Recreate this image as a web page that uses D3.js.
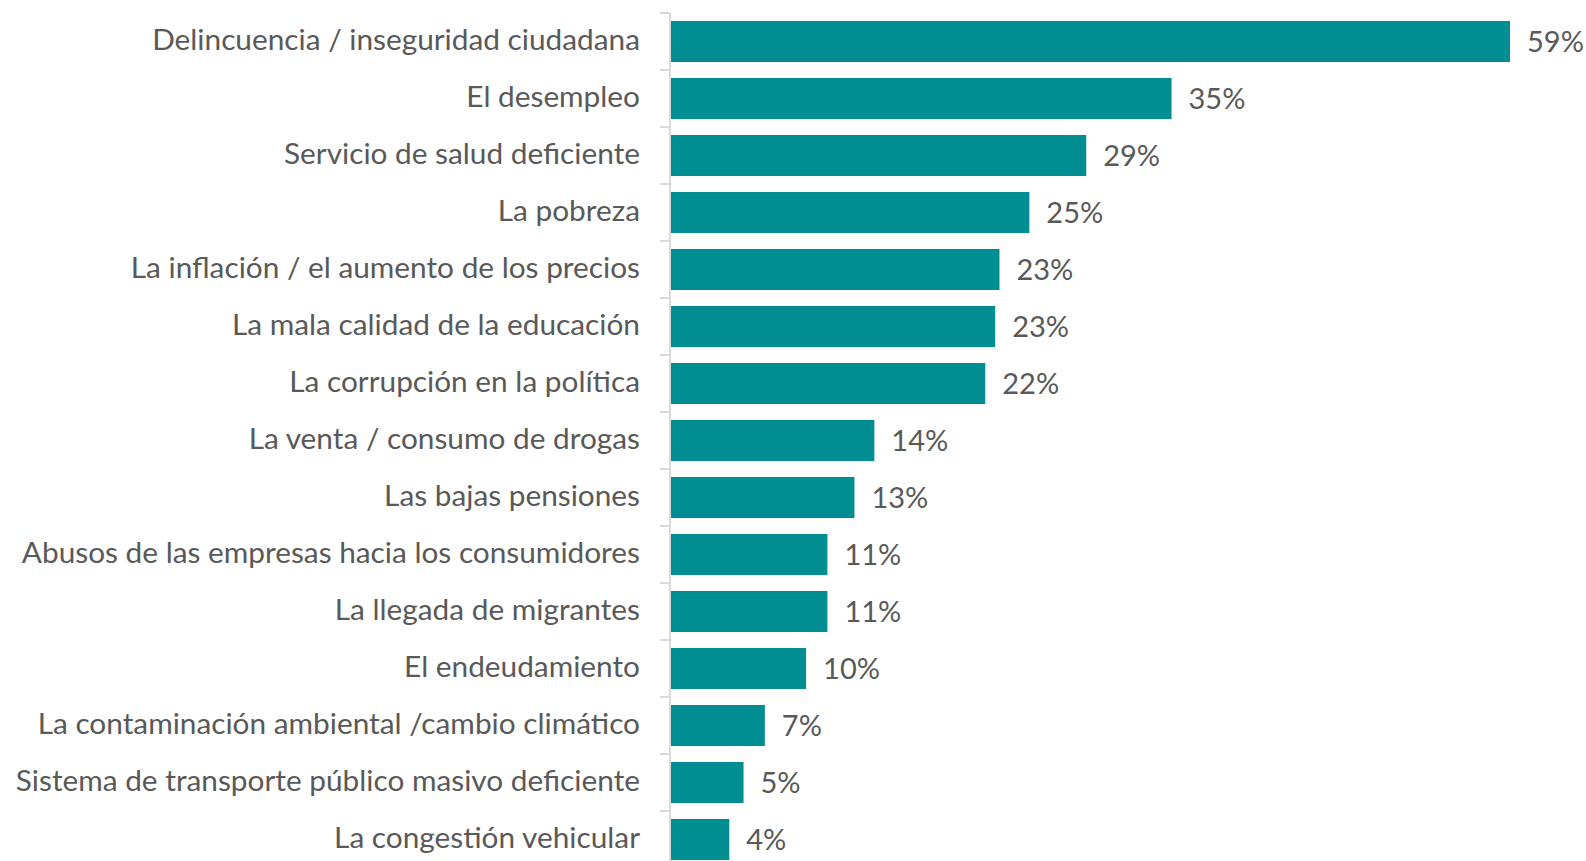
<!DOCTYPE html>
<html>
<head>
<meta charset="utf-8">
<script src="https://cdn.jsdelivr.net/npm/d3@7"></script>
<style>
  body { margin: 0; background: #fff; }
  svg { display: block; }
  text { font-family: Lato, 'Open Sans', sans-serif; fill: #595959; }
</style>
</head>
<body>
<div id="chart"></div>
<script>
const categories = [
  'Delincuencia / inseguridad ciudadana',
  'El desempleo',
  'Servicio de salud deficiente',
  'La pobreza',
  'La inflación / el aumento de los precios',
  'La mala calidad de la educación',
  'La corrupción en la política',
  'La venta / consumo de drogas',
  'Las bajas pensiones',
  'Abusos de las empresas hacia los consumidores',
  'La llegada de migrantes',
  'El endeudamiento',
  'La contaminación ambiental /cambio climático',
  'Sistema de transporte público masivo deficiente',
  'La congestión vehicular'
]
const values = [59.0, 35.2, 29.2, 25.2, 23.1, 22.8, 22.1, 14.3, 12.9, 11.0, 11.0, 9.5, 6.6, 5.1, 4.1]
const valueLabels = ['59%', '35%', '29%', '25%', '23%', '23%', '22%', '14%', '13%', '11%', '11%', '10%', '7%', '5%', '4%']

const data = categories.map((c, i) => ({ cat: c, value: values[i], label: valueLabels[i] }))

const WIDTH = 1586
const HEIGHT = 861
const AXIS_X = 670
const TOP = 13
const STEP = 57

const svg = d3.select('#chart')
  .append('svg')
  .attr('width', WIDTH)
  .attr('height', HEIGHT)

svg.append('rect')
  .attr('width', WIDTH)
  .attr('height', HEIGHT)
  .attr('fill', '#fff')

const y = d3.scaleBand()
  .domain(categories)
  .range([TOP, TOP + STEP * categories.length])
  .paddingInner(0.28)
  .paddingOuter(0.14)

const x = d3.scaleLinear()
  .domain([0, 59])
  .range([AXIS_X + 1, 1510])

// bars
svg.selectAll('rect.bar')
  .data(data)
  .enter()
  .append('rect')
  .attr('class', 'bar')
  .attr('x', x(0))
  .attr('y', d => y(d.cat))
  .attr('width', d => x(d.value) - x(0))
  .attr('height', y.bandwidth())
  .attr('fill', '#008e93')

// value labels
svg.selectAll('text.value')
  .data(data)
  .enter()
  .append('text')
  .attr('class', 'value')
  .attr('x', d => x(d.value) + 17)
  .attr('y', d => y(d.cat) + y.bandwidth() / 2)
  .attr('dy', '0.36em')
  .attr('font-size', '29px')
  .text(d => d.label)

// category axis, ticks on band edges
const axis = svg.append('g').attr('class', 'y axis')
axis.append('line')
  .attr('x1', AXIS_X).attr('x2', AXIS_X)
  .attr('y1', TOP).attr('y2', HEIGHT)
  .attr('stroke', '#d9d9d9')
  .attr('stroke-width', 2)

const edges = categories.map(c => y(c) - y.step() * y.paddingInner() / 2)
axis.selectAll('line.tick')
  .data(edges)
  .enter()
  .append('line')
  .attr('class', 'tick')
  .attr('x1', AXIS_X - 10).attr('x2', AXIS_X)
  .attr('y1', d => d).attr('y2', d => d)
  .attr('stroke', '#d9d9d9')
  .attr('stroke-width', 2)

axis.selectAll('text')
  .data(categories)
  .enter()
  .append('text')
  .attr('x', 640)
  .attr('y', d => y(d) + y.bandwidth() / 2)
  .attr('dy', '0.3em')
  .attr('text-anchor', 'end')
  .attr('font-size', '29.8px')
  .text(d => d)
</script>
</body>
</html>
